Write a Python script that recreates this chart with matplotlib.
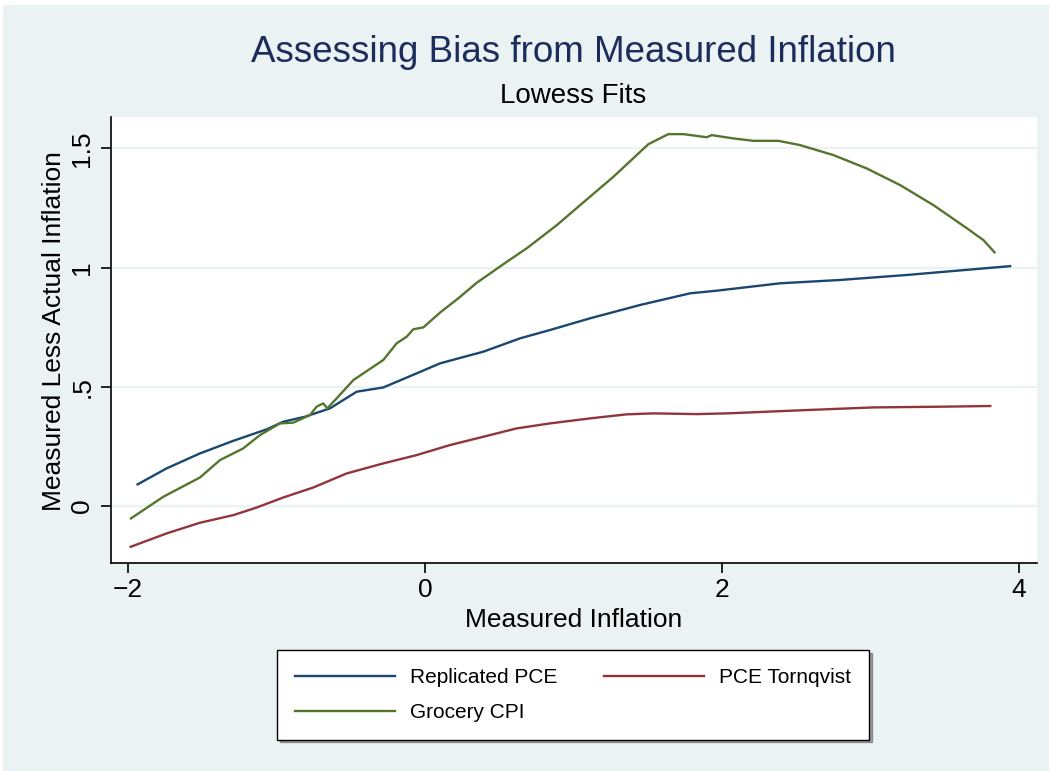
import matplotlib.pyplot as plt
import matplotlib.patches as patches

plt.rcParams['font.family'] = ['Liberation Sans', 'DejaVu Sans']

# lowess fits
pce_x = [-1.935, -1.74, -1.515, -1.29, -1.066, -0.954, -0.808, -0.64, -0.55, -0.46, -0.28, -0.056,
         0.101, 0.393, 0.64, 0.842, 1.111, 1.448, 1.785, 1.964, 2.391, 2.795, 3.244, 3.939]
pce_y = [0.09, 0.157, 0.22, 0.273, 0.321, 0.353, 0.374, 0.409, 0.444, 0.479, 0.497, 0.556,
         0.598, 0.647, 0.703, 0.738, 0.787, 0.843, 0.892, 0.903, 0.934, 0.948, 0.969, 1.006]

grocery_x = [-1.98, -1.762, -1.515, -1.38, -1.224, -1.111, -0.976, -0.887, -0.774, -0.73, -0.685,
             -0.658, -0.595, -0.482, -0.281, -0.191, -0.123, -0.079, -0.011, 0.101, 0.224, 0.348,
             0.55, 0.685, 0.887, 1.044, 1.268, 1.504, 1.638, 1.74, 1.897, 1.93, 2.077, 2.211,
             2.379, 2.525, 2.75, 2.974, 3.199, 3.423, 3.648, 3.76, 3.834]
grocery_y = [-0.053, 0.038, 0.119, 0.192, 0.241, 0.297, 0.346, 0.349, 0.381, 0.416, 0.43,
             0.409, 0.451, 0.528, 0.612, 0.682, 0.71, 0.741, 0.749, 0.811, 0.871, 0.936,
             1.024, 1.081, 1.178, 1.262, 1.381, 1.518, 1.56, 1.56, 1.547, 1.556, 1.542, 1.532,
             1.532, 1.514, 1.472, 1.416, 1.346, 1.262, 1.165, 1.115, 1.064]

tornqvist_x = [-1.982, -1.74, -1.515, -1.29, -1.133, -0.954, -0.752, -0.527, -0.281, -0.056,
               0.168, 0.393, 0.617, 0.842, 1.111, 1.358, 1.537, 1.83, 2.032, 2.57, 3.019,
               3.47, 3.805]
tornqvist_y = [-0.172, -0.116, -0.071, -0.039, -0.007, 0.035, 0.077, 0.136, 0.178, 0.213,
               0.255, 0.29, 0.325, 0.346, 0.367, 0.384, 0.388, 0.385, 0.388, 0.402, 0.413,
               0.416, 0.419]

x_ticks = [-2, 0, 2, 4]
x_ticklabels = ['\u22122', '0', '2', '4']
y_ticks = [0, 0.5, 1, 1.5]
y_ticklabels = ['0', '.5', '1', '1.5']

bg = '#EAF2F3'
navy = '#1a476f'
maroon = '#90353b'
green = '#55752f'

fig = plt.figure(figsize=(10.49, 7.71), dpi=100, facecolor='white')
fig.patches.append(patches.Rectangle((3 / 1049, 0), 1, 1 - 5 / 771, transform=fig.transFigure,
                                     facecolor=bg, edgecolor='none', zorder=-10))

ax = fig.add_axes([111 / 1049, 1 - 563 / 771, (1037 - 111) / 1049, (563 - 117) / 771])
ax.set_facecolor('white')
for y in y_ticks:
    ax.axhline(y, color=bg, lw=1.6, zorder=1)

l1, = ax.plot(pce_x, pce_y, color=navy, lw=1.7, zorder=3, label='Replicated PCE')
l2, = ax.plot(tornqvist_x, tornqvist_y, color=maroon, lw=1.7, zorder=3, label='PCE Tornqvist')
l3, = ax.plot(grocery_x, grocery_y, color=green, lw=1.7, zorder=3, label='Grocery CPI')

ax.set_xlim(-2.114, 4.12)
ax.set_ylim(-0.24, 1.632)
ax.spines['top'].set_visible(False)
ax.spines['right'].set_visible(False)
ax.spines['left'].set_linewidth(1.2)
ax.spines['bottom'].set_linewidth(1.2)

ax.set_xticks(x_ticks)
ax.set_xticklabels(x_ticklabels)
ax.set_yticks(y_ticks)
ax.set_yticklabels(y_ticklabels, rotation=90, va='center')
ax.tick_params(axis='both', direction='out', length=7, width=1.2, labelsize=19)
ax.tick_params(axis='x', pad=4)
ax.tick_params(axis='y', pad=5)

ax.set_xlabel('Measured Inflation', fontsize=19, labelpad=4)
ax.set_ylabel('Measured Less Actual Inflation', fontsize=19, labelpad=3, y=0.52)

fig.text(573 / 1049, 1 - 52 / 771, 'Assessing Bias from Measured Inflation', fontsize=26.5,
         color='#1c2d5c', ha='center', va='center')
fig.text(573 / 1049, 1 - 96 / 771, 'Lowess Fits', fontsize=20, ha='center', va='center')

leg = fig.legend(handles=[l1, l3, l2], loc='center', bbox_to_anchor=(573 / 1049, 1 - 695 / 771),
                 ncol=2, fontsize=15, handlelength=4.8, handletextpad=0.75, columnspacing=2.2,
                 labelspacing=0.75, borderpad=0.85, frameon=True, fancybox=False, shadow=True)
leg.get_frame().set_edgecolor('black')
leg.get_frame().set_linewidth(1.0)
leg.get_frame().set_facecolor('white')
for line in leg.get_lines():
    line.set_linewidth(1.7)

fig.savefig('out.png', dpi=100, facecolor=fig.get_facecolor())
